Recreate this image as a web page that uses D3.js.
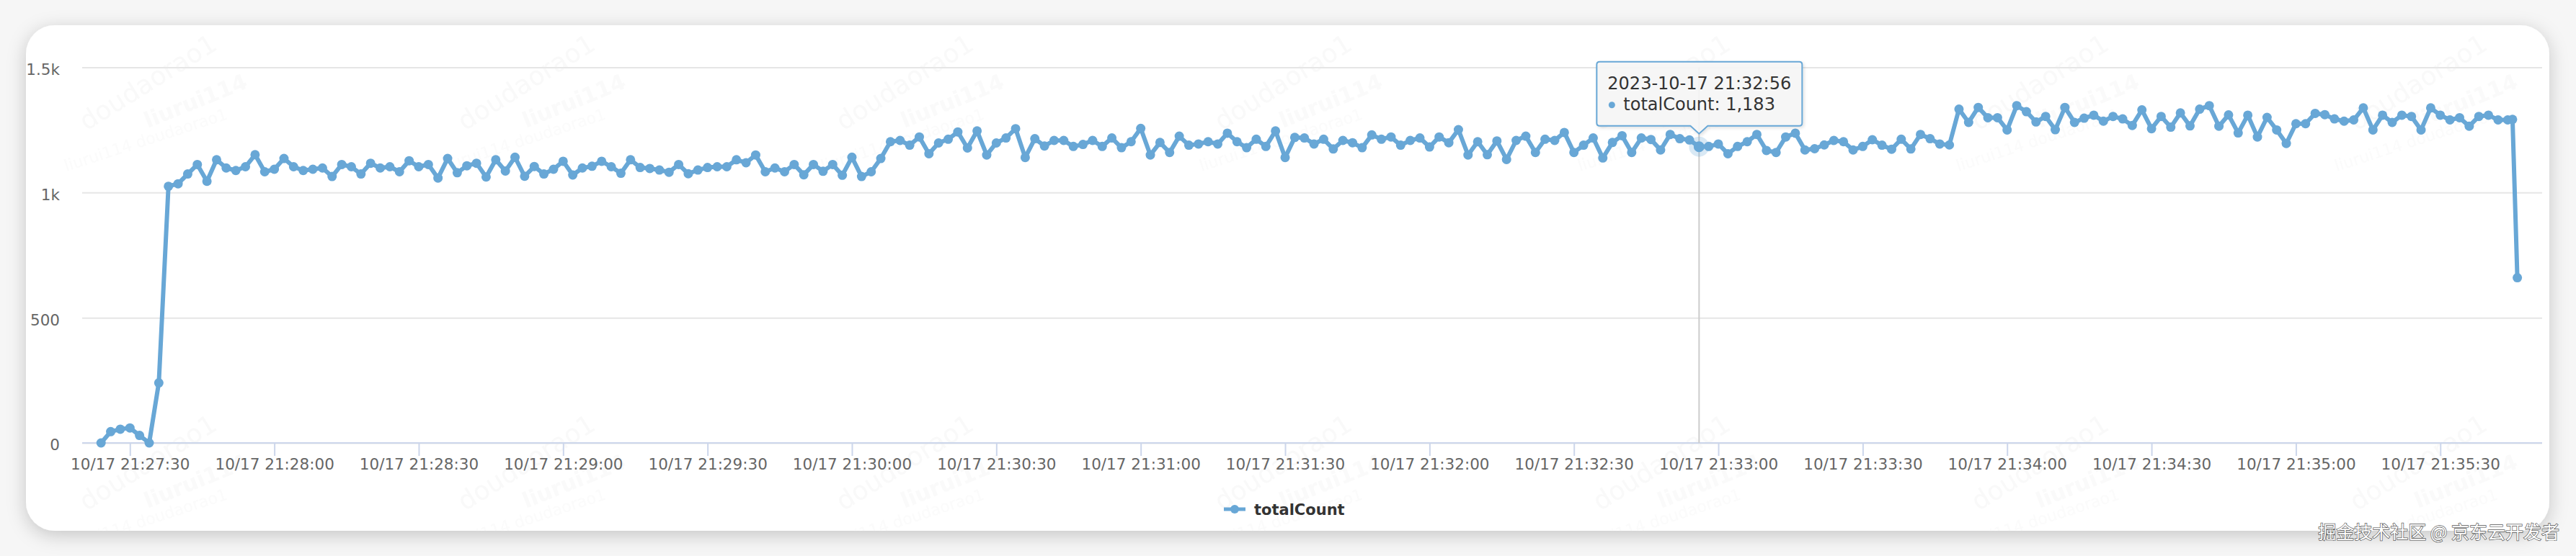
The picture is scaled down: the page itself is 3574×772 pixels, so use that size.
<!DOCTYPE html>
<html>
<head>
<meta charset="utf-8">
<script src="https://cdn.jsdelivr.net/npm/d3@7"></script>
<style>
  html, body { margin: 0; padding: 0; background: #f6f6f6; }
  svg { display: block; }
</style>
</head>
<body>
<div id="chart"></div>
<script>
// ---- data ----
const seriesName = "totalCount";
const sampleStart = "2023-10-17 21:27:24";
const sampleStepSec = 2;
const sampleValues = [
  0, 45, 55, 60, 30, 0, 240, 1025, 1035, 1074,
  1112, 1045, 1131, 1098, 1088, 1103, 1151, 1083, 1093, 1136,
  1103, 1088, 1093, 1098, 1064, 1112, 1103, 1074, 1117, 1098,
  1103, 1083, 1127, 1103, 1112, 1058, 1136, 1079, 1107, 1117,
  1062, 1131, 1086, 1141, 1065, 1104, 1074, 1093, 1125, 1070,
  1098, 1105, 1125, 1103, 1077, 1131, 1100, 1096, 1090, 1081,
  1112, 1075, 1090, 1100, 1103, 1103, 1131, 1119, 1150, 1083,
  1098, 1083, 1112, 1071, 1112, 1085, 1112, 1069, 1141, 1064,
  1083, 1136, 1203, 1208, 1189, 1222, 1155, 1198, 1213, 1242,
  1178, 1246, 1150, 1198, 1218, 1255, 1140, 1215, 1186, 1208,
  1208, 1184, 1192, 1208, 1184, 1218, 1179, 1203, 1256, 1150,
  1200, 1160, 1225, 1189, 1194, 1203, 1194, 1237, 1203, 1179,
  1213, 1184, 1246, 1140, 1220, 1218, 1194, 1213, 1174, 1208,
  1199, 1179, 1230, 1213, 1222, 1189, 1208, 1218, 1182, 1222,
  1199, 1251, 1150, 1203, 1151, 1206, 1132, 1208, 1225, 1160,
  1213, 1208, 1240, 1160, 1189, 1218, 1138, 1200, 1227, 1160,
  1218, 1212, 1170, 1232, 1215, 1210, 1183, 1184, 1194, 1155,
  1184, 1203, 1232, 1168, 1160, 1222, 1237, 1170, 1175, 1190,
  1208, 1203, 1170, 1184, 1211, 1189, 1173, 1213, 1174, 1232,
  1215, 1194, 1190, 1333, 1280, 1340, 1299, 1299, 1250, 1347,
  1323, 1282, 1304, 1251, 1340, 1280, 1297, 1309, 1285, 1304,
  1294, 1268, 1330, 1255, 1304, 1261, 1318, 1266, 1333, 1347,
  1265, 1310, 1238, 1309, 1222, 1300, 1250, 1196, 1275, 1275,
  1316, 1311, 1294, 1285, 1290, 1338, 1250, 1309, 1280, 1309,
  1304, 1250, 1338, 1309, 1290, 1299, 1265, 1304, 1309, 1290,
  1290
];
const tailTimes = ["2023-10-17 21:35:45", "2023-10-17 21:35:46"];
const tailValues = [1292, 660];

const xTickTimes = [
  "2023-10-17 21:27:30", "2023-10-17 21:28:00", "2023-10-17 21:28:30",
  "2023-10-17 21:29:00", "2023-10-17 21:29:30", "2023-10-17 21:30:00",
  "2023-10-17 21:30:30", "2023-10-17 21:31:00", "2023-10-17 21:31:30",
  "2023-10-17 21:32:00", "2023-10-17 21:32:30", "2023-10-17 21:33:00",
  "2023-10-17 21:33:30", "2023-10-17 21:34:00", "2023-10-17 21:34:30",
  "2023-10-17 21:35:00", "2023-10-17 21:35:30"
];
const yTickValues = [0, 500, 1000, 1500];
const yTickLabels = ["0", "500", "1k", "1.5k"];
const hoverTime = "2023-10-17 21:32:56";
const xDomain = ["2023-10-17 21:27:20", "2023-10-17 21:35:51"];

// ---- layout ----
const W = 3574, H = 772;
const card = { x: 36, y: 35, w: 3501, h: 702, r: 40 };
const plot = { left: 114, right: 3527, top: 93.5, bottom: 615 };
const color = "#68a7d6";
const font = "'DejaVu Sans', 'Lucida Grande', Verdana, sans-serif";

const parse = d3.timeParse("%Y-%m-%d %H:%M:%S");
const fmtTick = d3.timeFormat("%m/%d %H:%M:%S");
const fmtTip = d3.timeFormat("%Y-%m-%d %H:%M:%S");

const t0 = parse(sampleStart);
const data = sampleValues.map((v, i) => ({ t: new Date(+t0 + i * sampleStepSec * 1000), v }))
  .concat(tailTimes.map((s, i) => ({ t: parse(s), v: tailValues[i] })));

const x = d3.scaleTime().domain(xDomain.map(parse)).range([plot.left - 0.5, plot.right - 1]);
const y = d3.scaleLinear().domain([0, 1500]).range([plot.bottom, plot.top]);

const svg = d3.select("#chart").append("svg")
  .attr("width", W).attr("height", H)
  .attr("viewBox", `0 0 ${W} ${H}`);

const defs = svg.append("defs");
const shadow = defs.append("filter").attr("id", "cardShadow")
  .attr("x", "-5%").attr("y", "-20%").attr("width", "110%").attr("height", "140%");
shadow.append("feDropShadow").attr("dx", 0).attr("dy", 6).attr("stdDeviation", 13)
  .attr("flood-color", "#000").attr("flood-opacity", 0.2);

const tipShadow = defs.append("filter").attr("id", "tipShadow")
  .attr("x", "-20%").attr("y", "-30%").attr("width", "140%").attr("height", "160%");
tipShadow.append("feDropShadow").attr("dx", 2).attr("dy", 2).attr("stdDeviation", 2)
  .attr("flood-color", "#000").attr("flood-opacity", 0.12);

// faint repeated watermark
const wm = defs.append("pattern").attr("id", "wm")
  .attr("patternUnits", "userSpaceOnUse")
  .attr("x", 0).attr("y", 0).attr("width", 525).attr("height", 528);
wm.append("text").attr("transform", "translate(120,182) rotate(-32)")
  .attr("font-family", font).attr("font-size", 36).attr("fill", "#000").attr("fill-opacity", 0.022)
  .text("doudaorao1");
wm.append("text").attr("transform", "translate(205,178) rotate(-22)")
  .attr("font-family", font).attr("font-size", 30).attr("font-weight", "bold")
  .attr("fill", "#000").attr("fill-opacity", 0.02)
  .text("liurui114");
wm.append("text").attr("transform", "translate(92,238) rotate(-18)")
  .attr("font-family", font).attr("font-size", 22)
  .attr("fill", "#000").attr("fill-opacity", 0.015)
  .text("liurui114 doudaorao1");

// card
svg.append("rect")
  .attr("x", card.x).attr("y", card.y).attr("width", card.w).attr("height", card.h)
  .attr("rx", card.r).attr("fill", "#fff").attr("filter", "url(#cardShadow)");
svg.append("rect")
  .attr("x", card.x).attr("y", card.y).attr("width", card.w).attr("height", card.h)
  .attr("rx", card.r).attr("fill", "url(#wm)");

// y grid + labels
const yAxis = svg.append("g")
  .attr("transform", `translate(${plot.left},0)`)
  .call(d3.axisLeft(y).tickValues(yTickValues)
    .tickSize(-(plot.right - plot.left))
    .tickPadding(31)
    .tickFormat((d, i) => yTickLabels[i]));
yAxis.select(".domain").remove();
yAxis.selectAll(".tick line").attr("stroke", "#e6e6e6").attr("stroke-width", 2);
yAxis.selectAll(".tick text")
  .attr("font-family", font).attr("font-size", 21.5).attr("fill", "#666")
  .attr("y", 3);

// x axis
const xAxis = svg.append("g")
  .attr("transform", `translate(0,${plot.bottom})`)
  .call(d3.axisBottom(x).tickValues(xTickTimes.map(parse))
    .tickSize(18).tickSizeOuter(0).tickPadding(4)
    .tickFormat(fmtTick));
xAxis.select(".domain").remove();
xAxis.append("line")
  .attr("x1", plot.left).attr("x2", plot.right)
  .attr("stroke", "#ccd6eb").attr("stroke-width", 2);
xAxis.selectAll(".tick line").attr("stroke", "#ccd6eb").attr("stroke-width", 2);
xAxis.selectAll(".tick text")
  .attr("font-family", font).attr("font-size", 21.5).attr("fill", "#666");

// hovered point and crosshair
const hovered = data.find(d => +d.t === +parse(hoverTime));
const hx = x(hovered.t), hy = y(hovered.v);

svg.append("line")
  .attr("x1", hx).attr("x2", hx).attr("y1", plot.top).attr("y2", plot.bottom)
  .attr("stroke", "#cccccc").attr("stroke-width", 2);

// series
const line = d3.line().x(d => x(d.t)).y(d => y(d.v));
svg.append("path")
  .datum(data)
  .attr("fill", "none")
  .attr("stroke", color)
  .attr("stroke-width", 6)
  .attr("stroke-linejoin", "round")
  .attr("stroke-linecap", "round")
  .attr("d", line);

svg.append("g").selectAll("circle")
  .data(data)
  .join("circle")
  .attr("cx", d => x(d.t))
  .attr("cy", d => y(d.v))
  .attr("r", 6.5)
  .attr("fill", color);

svg.append("circle")
  .attr("cx", hx).attr("cy", hy).attr("r", 14)
  .attr("fill", color).attr("fill-opacity", 0.25);
svg.append("circle")
  .attr("cx", hx).attr("cy", hy).attr("r", 7.5)
  .attr("fill", color);

// tooltip
const tipW = 285, tipH = 89;
const tipX = hx - 142, tipBottom = hy - 29, tipY = tipBottom - tipH;
const rr = 4;
const tipPath = [
  `M${tipX + rr},${tipY}`,
  `H${tipX + tipW - rr}`,
  `Q${tipX + tipW},${tipY} ${tipX + tipW},${tipY + rr}`,
  `V${tipBottom - rr}`,
  `Q${tipX + tipW},${tipBottom} ${tipX + tipW - rr},${tipBottom}`,
  `H${hx + 12}`,
  `L${hx},${tipBottom + 11}`,
  `L${hx - 12},${tipBottom}`,
  `H${tipX + rr}`,
  `Q${tipX},${tipBottom} ${tipX},${tipBottom - rr}`,
  `V${tipY + rr}`,
  `Q${tipX},${tipY} ${tipX + rr},${tipY}`,
  "Z"
].join(" ");
const tip = svg.append("g");
tip.append("path").attr("d", tipPath)
  .attr("fill", "rgba(247,247,247,0.88)")
  .attr("stroke", color).attr("stroke-width", 2)
  .attr("filter", "url(#tipShadow)");
tip.append("text")
  .attr("x", tipX + 15).attr("y", tipY + 38)
  .attr("font-family", font).attr("font-size", 24).attr("fill", "#333")
  .text(fmtTip(hovered.t));
tip.append("circle")
  .attr("cx", tipX + 21).attr("cy", tipY + 60).attr("r", 4.5).attr("fill", color);
tip.append("text")
  .attr("x", tipX + 37).attr("y", tipY + 67)
  .attr("font-family", font).attr("font-size", 24).attr("fill", "#333")
  .text(`${seriesName}: ${d3.format(",")(hovered.v)}`);

// legend
const legend = svg.append("g").attr("transform", "translate(1698,707)");
legend.append("line").attr("x1", 0).attr("x2", 30)
  .attr("stroke", color).attr("stroke-width", 5);
legend.append("circle").attr("cx", 15).attr("r", 6).attr("fill", color);
legend.append("text")
  .attr("x", 42).attr("y", 7.5)
  .attr("font-family", font).attr("font-size", 21).attr("font-weight", "bold")
  .attr("fill", "#333")
  .text(seriesName);

// site watermark, bottom right
svg.append("text")
  .attr("x", 3551).attr("y", 748)
  .attr("text-anchor", "end")
  .attr("font-family", "'Noto Sans CJK SC', sans-serif")
  .attr("font-size", 25)
  .attr("fill", "#ffffff")
  .attr("stroke", "#555")
  .attr("stroke-width", 1.4)
  .attr("paint-order", "stroke")
  .text("掘金技术社区 @ 京东云开发者");
</script>
</body>
</html>
